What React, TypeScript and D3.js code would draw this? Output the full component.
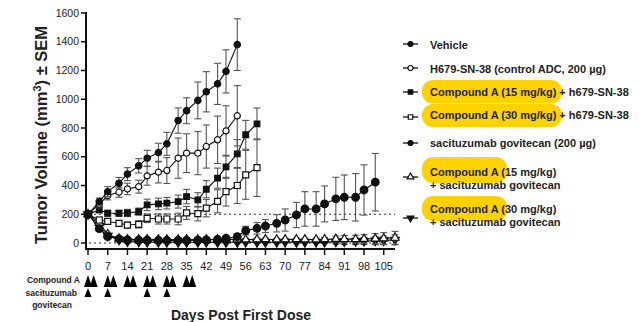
import React from 'react'
import * as d3 from 'd3'

const chartWidth = 641
const chartHeight = 322
const font = '"Liberation Sans", Arial, Helvetica, sans-serif'

// measurement days (twice weekly)
const days = [0, 4, 7, 11, 14, 18, 21, 25, 28, 32, 35, 39, 42, 46, 49, 53, 56, 60, 63, 67, 70, 74, 77, 81, 84, 88, 91, 95, 98, 102, 105, 109]

const vehicle = [200, 288, 357, 416, 479, 537, 590, 629, 690, 852, 920, 992, 1052, 1107, 1194, 1380]
const vehicleSem = [0, 25, 35, 40, 45, 50, 55, 65, 80, 88, 90, 128, 140, 143, 150, 180]

const h679 = [200, 270, 330, 353, 376, 392, 467, 493, 504, 590, 625, 625, 671, 718, 780, 885]
const h679Sem = [0, 25, 30, 35, 40, 45, 65, 75, 90, 140, 135, 150, 150, 165, 175, 210]

const ca15H679 = [200, 230, 207, 207, 209, 218, 265, 272, 277, 288, 323, 300, 374, 451, 530, 620, 753, 829]
const ca15H679Sem = [0, 20, 20, 20, 25, 25, 40, 40, 40, 45, 50, 50, 60, 70, 80, 100, 100, 110]

const ca30H679 = [200, 160, 150, 137, 125, 130, 172, 167, 167, 167, 209, 204, 242, 290, 357, 400, 474, 524]
const ca30H679Sem = [0, 20, 20, 20, 20, 25, 30, 35, 35, 40, 45, 50, 60, 80, 100, 125, 170, 200]

const saci = [200, 100, 45, 28, 22, 20, 20, 18, 18, 18, 18, 20, 22, 25, 33, 44, 86, 102, 118, 137, 160, 195, 237, 237, 272, 307, 318, 318, 369, 423]
const saciSem = [0, 20, 15, 10, 8, 8, 8, 8, 8, 8, 8, 8, 10, 10, 15, 20, 30, 40, 45, 60, 77, 88, 120, 120, 125, 150, 155, 165, 175, 200]

const ca15Saci = [200, 140, 60, 30, 25, 24, 25, 24, 23, 24, 25, 24, 25, 24, 26, 25, 24, 25, 26, 24, 25, 26, 25, 24, 26, 28, 27, 26, 28, 30, 32, 36]
const ca15SaciSem = [0, 20, 15, 10, 8, 8, 8, 8, 8, 8, 8, 8, 8, 8, 8, 8, 8, 8, 8, 8, 8, 8, 8, 10, 12, 20, 25, 28, 30, 35, 40, 45]

const ca30Saci = [200, 120, 50, 22, 10, 8, 7, 6, 6, 5, 5, 5, 6, 5, 5, 5, 6, 5, 5, 5, 6, 5, 5, 6, 6, 8, 10, 12, 14, 16, 18, 22]
const ca30SaciSem = [0, 20, 12, 8, 5, 5, 5, 5, 5, 5, 5, 5, 5, 5, 5, 5, 5, 5, 5, 5, 5, 5, 5, 6, 8, 15, 20, 22, 25, 28, 30, 35]

const yTicks = [0, 200, 400, 600, 800, 1000, 1200, 1400, 1600]
const xTicks = [0, 7, 14, 21, 28, 35, 42, 49, 56, 63, 70, 77, 84, 91, 98, 105]
const referenceLines = [0, 200]

const compoundDoses = [0, 2, 7, 9, 14, 16, 21, 23, 28, 30, 35, 37]
const saciDoses = [0, 7, 21, 28]

const xScale = d3.scaleLinear().domain([0, 109]).range([88, 395])
const yScale = d3.scaleLinear().domain([0, 1600]).range([243, 13])

const series = [
  { key: 'ca30Saci', values: ca30Saci, sem: ca30SaciSem, shape: 'down', filled: true, size: 32 },
  { key: 'ca15Saci', values: ca15Saci, sem: ca15SaciSem, shape: 'up', filled: false, size: 30 },
  { key: 'saci', values: saci, sem: saciSem, shape: 'circle', filled: true, size: 46 },
  { key: 'ca30H679', values: ca30H679, sem: ca30H679Sem, shape: 'square', filled: false, size: 36 },
  { key: 'ca15H679', values: ca15H679, sem: ca15H679Sem, shape: 'square', filled: true, size: 32 },
  { key: 'h679', values: h679, sem: h679Sem, shape: 'circle', filled: false, size: 30 },
  { key: 'vehicle', values: vehicle, sem: vehicleSem, shape: 'circle', filled: true, size: 32 },
]

function symbolPath(shape: string, size: number) {
  const type =
    shape === 'square' ? d3.symbolSquare : shape === 'circle' ? d3.symbolCircle : d3.symbolTriangle
  return d3.symbol().type(type).size(size)() as string
}

function Marker({ shape, filled, size, x, y }: any) {
  return (
    <path
      d={symbolPath(shape, size)}
      transform={`translate(${x},${y})${shape === 'down' ? ' rotate(180)' : ''}`}
      fill={filled ? '#111' : '#fff'}
      stroke="#111"
      strokeWidth={1.2}
    />
  )
}

function YAxis() {
  return (
    <g fontFamily={font} fontSize={10.5} fill="#222">
      <line x1={86} x2={86} y1={12} y2={249} stroke="#111" strokeWidth={2} />
      {yTicks.map(t => (
        <g key={t}>
          <line x1={81} x2={86} y1={yScale(t)} y2={yScale(t)} stroke="#111" strokeWidth={1.5} />
          <text x={79} y={yScale(t)} dy="0.35em" textAnchor="end">
            {t}
          </text>
        </g>
      ))}
      <text
        transform="translate(47,135) rotate(-90)"
        textAnchor="middle"
        fontSize={16.5}
        fontWeight="bold"
        fill="#222"
      >
        Tumor Volume (mm
        <tspan dy={-6} fontSize={11}>
          3
        </tspan>
        <tspan dy={6}>) ± SEM</tspan>
      </text>
    </g>
  )
}

function XAxis() {
  return (
    <g fontFamily={font} fontSize={11} fill="#222">
      <line x1={85} x2={395} y1={249} y2={249} stroke="#111" strokeWidth={2} />
      {xTicks.map(t => (
        <g key={t}>
          <line x1={xScale(t)} x2={xScale(t)} y1={249} y2={255} stroke="#111" strokeWidth={1.5} />
          <text x={xScale(t)} y={270} textAnchor="middle">
            {t}
          </text>
        </g>
      ))}
      <text x={241} y={320} textAnchor="middle" fontSize={14} fontWeight="bold">
        Days Post First Dose
      </text>
    </g>
  )
}

function Dosing() {
  const tri = (cx: number, base: number, w: number, h: number) =>
    `M${cx - w / 2},${base} L${cx},${base - h} L${cx + w / 2},${base} Z`
  return (
    <g fontFamily={font} fontWeight="bold" fontSize={8.5} fill="#222">
      <text x={80} y={283} textAnchor="end">
        Compound A
      </text>
      <text x={77} y={296} textAnchor="end">
        sacituzumab
      </text>
      <text x={52} y={308} textAnchor="middle">
        govitecan
      </text>
      {compoundDoses.map((d, i) => (
        <path key={'c' + i} d={tri(xScale(d), 287, 8, 12)} fill="#000" />
      ))}
      {saciDoses.map((d, i) => (
        <path key={'s' + i} d={tri(xScale(d), 297, 7, 9)} fill="#000" />
      ))}
    </g>
  )
}

function Series({ s }: any) {
  const pts = s.values.map((v: number, i: number) => [xScale(days[i]), yScale(v)])
  const line = d3.line()(pts) as string
  return (
    <g>
      {s.values.map((v: number, i: number) => {
        const e = s.sem[i]
        if (!e) return null
        const x = xScale(days[i])
        const y1 = yScale(v + e)
        const y2 = yScale(v - e)
        return (
          <g key={i} stroke="#555" strokeWidth={1.1}>
            <line x1={x} x2={x} y1={y1} y2={y2} />
            <line x1={x - 3.5} x2={x + 3.5} y1={y1} y2={y1} />
            <line x1={x - 3.5} x2={x + 3.5} y1={y2} y2={y2} />
          </g>
        )
      })}
      <path d={line} fill="none" stroke="#111" strokeWidth={1.1} />
      {pts.map((p: number[], i: number) => (
        <Marker key={i} shape={s.shape} filled={s.filled} size={s.size} x={p[0]} y={p[1]} />
      ))}
    </g>
  )
}

const legendItems = [
  { key: 'vehicle', marker: 44, lines: [{ y: 49, pre: '', rest: 'Vehicle' }] },
  { key: 'h679', marker: 68, lines: [{ y: 72.5, pre: '', rest: 'H679-SN-38 (control ADC, 200 µg)' }] },
  { key: 'ca15H679', marker: 92, lines: [{ y: 95.5, pre: 'Compound A (15 mg/kg)', rest: ' + h679-SN-38' }] },
  { key: 'ca30H679', marker: 117, lines: [{ y: 119, pre: 'Compound A (30 mg/kg)', rest: ' + h679-SN-38' }] },
  { key: 'saci', marker: 143, lines: [{ y: 146.5, pre: '', rest: 'sacituzumab govitecan (200 µg)' }] },
  {
    key: 'ca15Saci',
    marker: 177,
    lines: [
      { y: 175.5, pre: 'Compound A (15 mg/kg)', rest: '' },
      { y: 189, pre: '', rest: '+ sacituzumab govitecan' },
    ],
  },
  {
    key: 'ca30Saci',
    marker: 218,
    lines: [
      { y: 213, pre: 'Compound A (30 mg/kg)', rest: '' },
      { y: 226, pre: '', rest: '+ sacituzumab govitecan' },
    ],
  },
]

const highlights = [
  { x: 422, y: 80, w: 140, h: 23.5 },
  { x: 422, y: 104, w: 140, h: 23 },
  { x: 422, y: 157, w: 85, h: 26 },
  { x: 422, y: 196, w: 85, h: 25 },
]

function Legend() {
  return (
    <g fontFamily={font} fontSize={11} fontWeight="bold" fill="#222">
      {highlights.map((h, i) => (
        <rect key={i} x={h.x} y={h.y} width={h.w} height={h.h} rx={11} fill="#FFD200" />
      ))}
      {legendItems.map(item => {
        const s = series.find(d => d.key === item.key)!
        return (
          <g key={item.key}>
            <line x1={403} x2={418} y1={item.marker} y2={item.marker} stroke="#111" strokeWidth={1.3} />
            <Marker shape={s.shape} filled={s.filled} size={20} x={410.5} y={item.marker} />
            {item.lines.map((l, i) => (
              <text key={i} x={430} y={l.y}>
                {l.pre}
                {l.rest}
              </text>
            ))}
          </g>
        )
      })}
    </g>
  )
}

export default function App() {
  return (
    <svg
      width={chartWidth}
      height={chartHeight}
      style={{ position: 'absolute', left: 0, top: 0, background: '#fff' }}
    >
      {referenceLines.map(r => (
        <line
          key={r}
          x1={89}
          x2={395}
          y1={yScale(r)}
          y2={yScale(r)}
          stroke="#333"
          strokeWidth={1.2}
          strokeDasharray="2,3"
        />
      ))}
      {series.map(s => (
        <Series key={s.key} s={s} />
      ))}
      <YAxis />
      <XAxis />
      <Dosing />
      <Legend />
    </svg>
  )
}
